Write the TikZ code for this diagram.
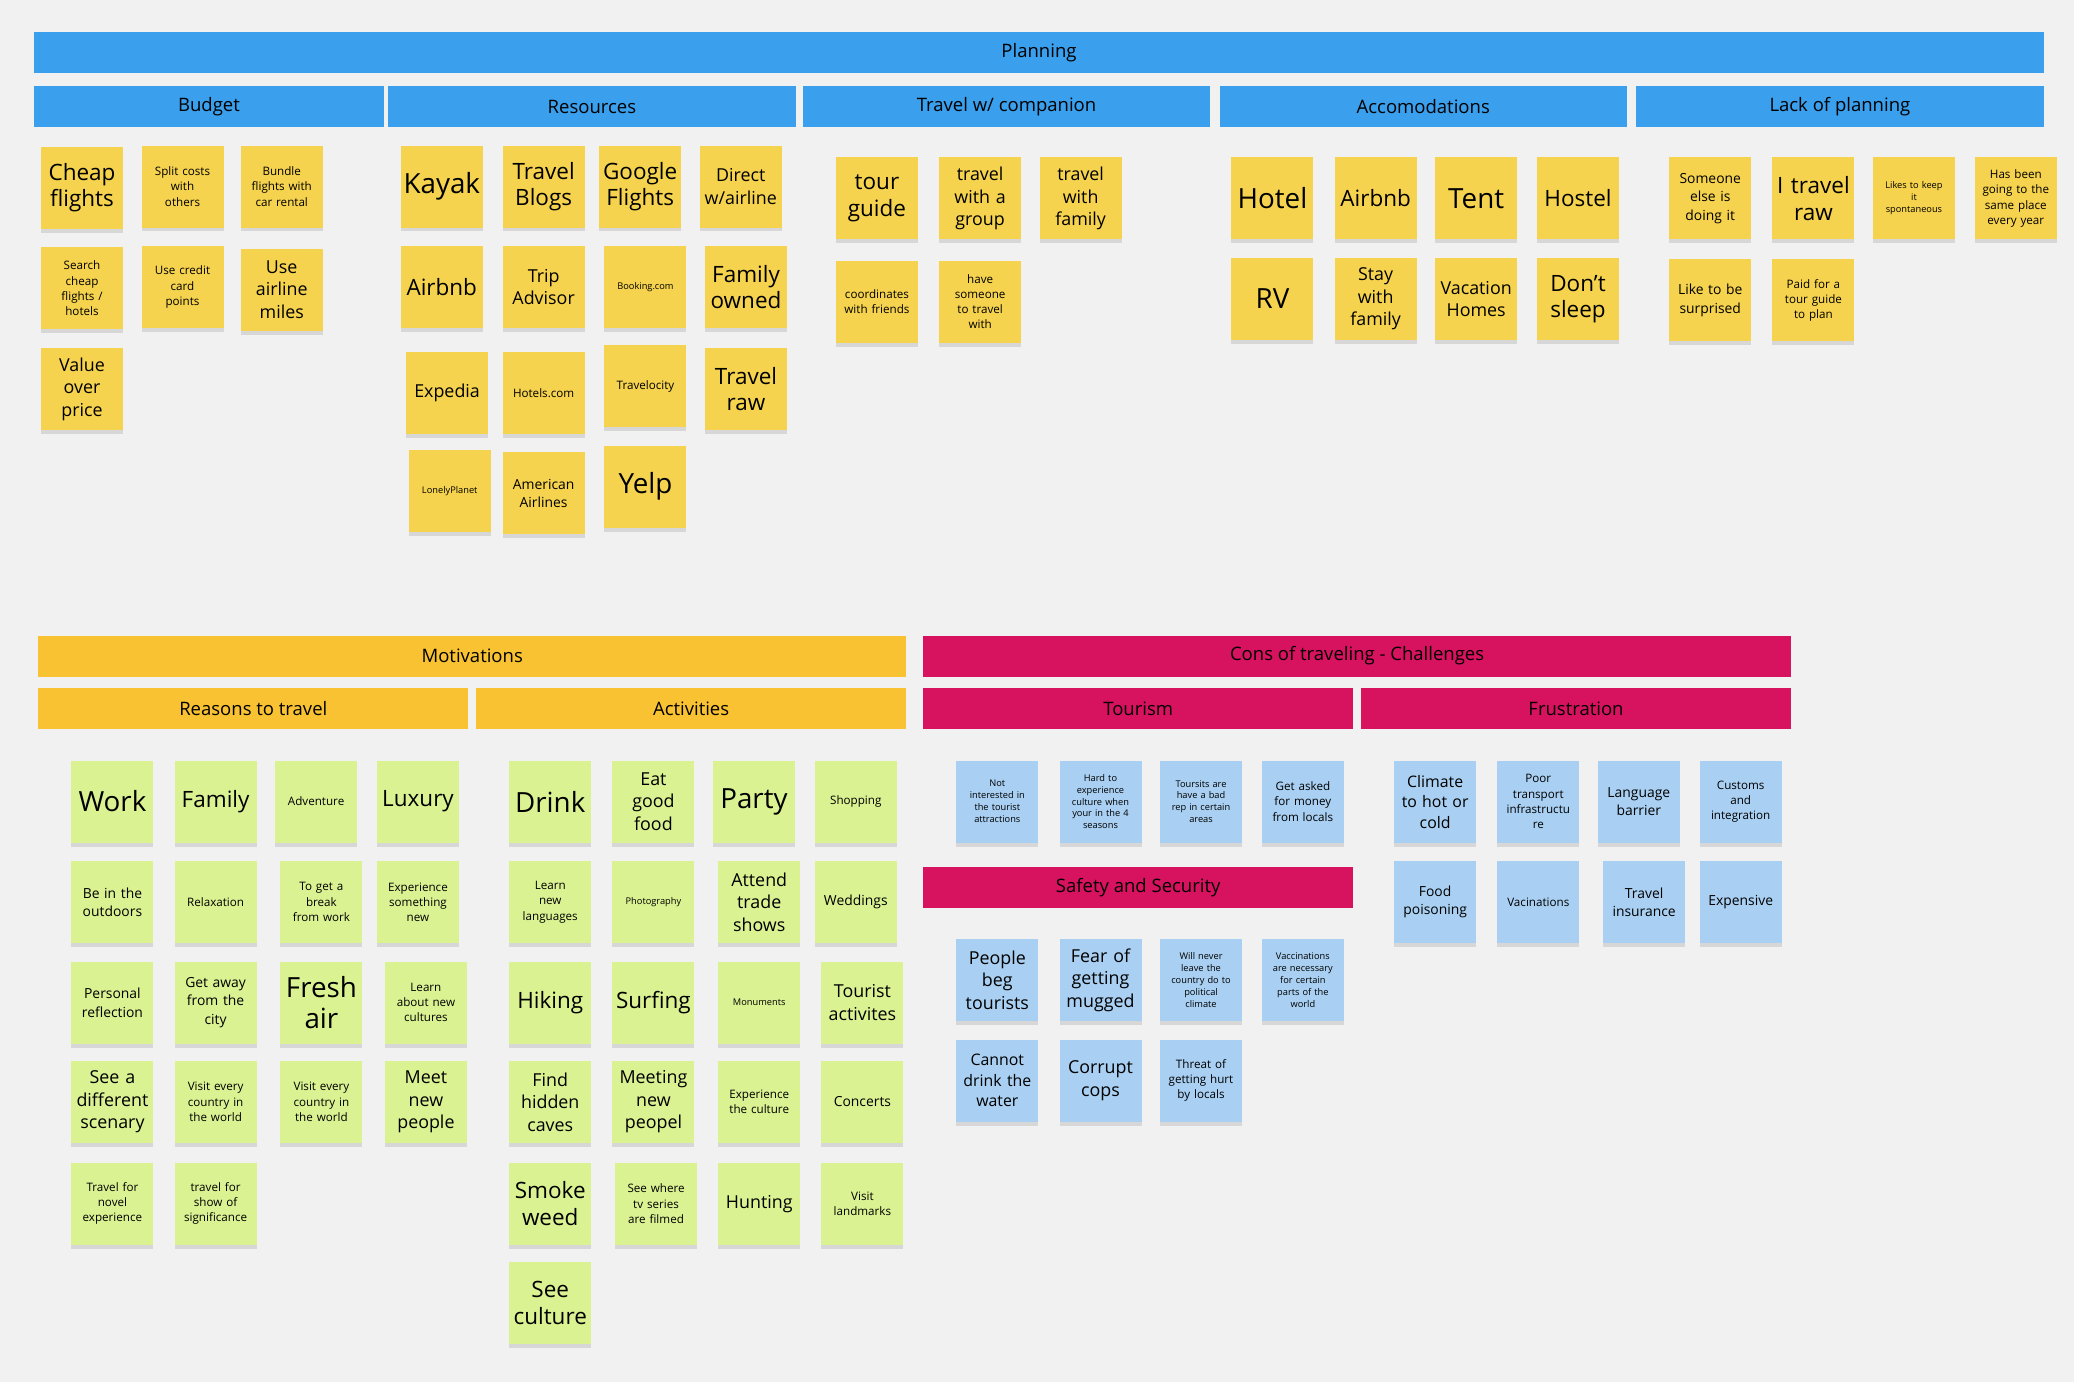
\documentclass[tikz,border=0pt]{standalone}
\usepackage{fontspec}
\setmainfont{Open Sans}
\usetikzlibrary{shadows}

\definecolor{bgc}{HTML}{F1F1F1}
\definecolor{plan}{HTML}{3A9FEC}
\definecolor{moti}{HTML}{F8C232}
\definecolor{cons}{HTML}{D7125F}
\definecolor{stiy}{HTML}{F6D34E}
\definecolor{stig}{HTML}{DAF292}
\definecolor{stib}{HTML}{A9D0F2}

\newcommand\fxl{\fontsize{21}{24}\selectfont}
\newcommand\fl{\fontsize{17}{20}\selectfont}
\newcommand\fm{\fontsize{13.5}{17}\selectfont}
\newcommand\fmm{\fontsize{12}{15.5}\selectfont}
\newcommand\fs{\fontsize{10.5}{14}\selectfont}
\newcommand\fxs{\fontsize{8.8}{11.5}\selectfont}
\newcommand\ft{\fontsize{7}{9}\selectfont}

\tikzset{
  note/.style={minimum width=62pt,minimum height=62pt,text width=58pt,inner sep=2pt,
    align=center,drop shadow={shadow xshift=0pt,shadow yshift=-3pt,fill=black!22,opacity=.6}},
  yel/.style={note,fill=stiy},
  grn/.style={note,fill=stig},
  blu/.style={note,fill=stib},
  head/.style={minimum height=31pt,inner sep=0pt,font=\fontsize{14}{16}\selectfont}
}

\begin{document}
\begin{tikzpicture}[x=1pt,y=-1pt]
\fill[bgc] (0,0) rectangle (1568,1045);
\useasboundingbox (0,0) rectangle (1568,1045);

% planning headers
\node[head,fill=plan,minimum width=1519pt] (plan) at (785.5,40) {Planning};
\node[head,fill=plan,minimum width=264pt] (ph1) at (158,80.5) {Budget};
\foreach \x/\t [count=\i from 2] in {447.5/Resources,761/{Travel w{/} companion},1076/Accomodations,1391/Lack of planning}
  \node[head,fill=plan,minimum width=308pt] (ph\i) at (\x,80.5) {\t};

% budget
\foreach \x/\y/\f/\t [count=\i] in {62/142/\fl/{Cheap\\flights},138/141/\fxs/{Split costs\\with\\others},213/141/\fxs/{Bundle\\flights with\\car rental},
  62/218/\fxs/{Search\\cheap\\flights /\\hotels},138/217/\fxs/{Use credit\\card\\points},213/219/\fm/{Use\\airline\\miles},
  62/294/\fm/{Value\\over\\price}}
  \node[yel,font=\f] (bud\i) at (\x,\y) {\t};

% resources
\foreach \x/\y/\f/\t [count=\i] in {334/141/\fxl/Kayak,411/141/\fl/{Travel\\Blogs},484/141/\fl/{Google\\Flights},560/141/\fm/{Direct\\w{/}airline},
  334/217/\fl/Airbnb,411/217/\fm/{Trip\\Advisor},488/217/\ft/Booking.com,564/217/\fl/{Family\\owned},
  338/297/\fm/Expedia,411/297/\fxs/Hotels.com,488/292/\fxs/Travelocity,564/294/\fl/{Travel\\raw},
  340/371/\ft/LonelyPlanet,411/373/\fs/{American\\Airlines},488/368/\fxl/Yelp}
  \node[yel,font=\f] (res\i) at (\x,\y) {\t};

% companion
\foreach \x/\y/\f/\t [count=\i] in {663/150/\fl/{tour\\guide},741/150/\fm/{travel\\with a\\group},817/150/\fm/{travel\\with\\family},
  663/228/\fxs/{coordinates\\with friends},741/228/\fxs/{have\\someone\\to travel\\with}}
  \node[yel,font=\f] (com\i) at (\x,\y) {\t};

% accomodations
\foreach \x/\y/\f/\t [count=\i] in {962/150/\fxl/Hotel,1040/150/\fl/Airbnb,1116/150/\fxl/Tent,1193/150/\fl/Hostel,
  962/226/\fxl/RV,1040/226/\fm/{Stay\\with\\family},1116/226/\fm/{Vacation\\Homes},1193/226/\fl/{Don't\\sleep}}
  \node[yel,font=\f] (acc\i) at (\x,\y) {\t};

% lack of planning
\foreach \x/\y/\f/\t [count=\i] in {1293/150/\fs/{Someone\\else is\\doing it},1371/150/\fl/{I travel\\raw},1447/150/\ft/{Likes to keep\\it\\spontaneous},1524/150/\fxs/{Has been\\going to the\\same place\\every year},
  1293/227/\fs/{Like to be\\surprised},1371/227/\fxs/{Paid for a\\tour guide\\to plan}}
  \node[yel,font=\f] (lac\i) at (\x,\y) {\t};

% motivations headers
\node[head,fill=moti,minimum width=656pt] (mot) at (357,496) {Motivations};
\node[head,fill=moti,minimum width=325pt] (rea) at (191.5,536) {Reasons to travel};
\node[head,fill=moti,minimum width=325pt] (act) at (522.5,536) {Activities};
\node[head,fill=cons,minimum width=656pt] (con) at (1026,496) {Cons of traveling - Challenges};
\node[head,fill=cons,minimum width=325pt] (tou) at (860.5,536) {Tourism};
\node[head,fill=cons,minimum width=325pt] (fru) at (1191.5,536) {Frustration};
\node[head,fill=cons,minimum width=325pt] (saf) at (860.5,671) {Safety and Security};

% reasons to travel
\foreach \x/\y/\f/\t [count=\i] in {85/606/\fxl/Work,163/606/\fl/Family,239/606/\fxs/Adventure,316/606/\fl/Luxury,
  85/682/\fs/{Be in the\\outdoors},163/682/\fxs/Relaxation,243/682/\fxs/{To get a\\break\\from work},316/682/\fxs/{Experience\\something\\new},
  85/758/\fs/{Personal\\reflection},163/758/\fs/{Get away\\from the\\city},243/758/\fxl/{Fresh\\air},322/758/\fxs/{Learn\\about new\\cultures},
  85/833/\fm/{See a\\different\\scenary},163/833/\fxs/{Visit every\\country in\\the world},243/833/\fxs/{Visit every\\country in\\the world},322/833/\fm/{Meet\\new\\people},
  85/910/\fxs/{Travel for\\novel\\experience},163/910/\fxs/{travel for\\show of\\significance}}
  \node[grn,font=\f] (rea\i) at (\x,\y) {\t};

% activities
\foreach \x/\y/\f/\t [count=\i] in {416/606/\fxl/Drink,494/606/\fm/{Eat\\good\\food},570/606/\fxl/Party,647/606/\fxs/Shopping,
  416/682/\fxs/{Learn\\new\\languages},494/682/\ft/Photography,574/682/\fm/{Attend\\trade\\shows},647/682/\fs/Weddings,
  416/758/\fl/Hiking,494/758/\fl/Surfing,574/758/\ft/Monuments,652/758/\fm/{Tourist\\activites},
  416/833/\fm/{Find\\hidden\\caves},494/833/\fm/{Meeting\\new\\peopel},574/833/\fxs/{Experience\\the culture},652/833/\fs/Concerts,
  416/910/\fl/{Smoke\\weed},496/910/\fxs/{See where\\tv series\\are filmed},574/910/\fm/Hunting,652/910/\fxs/{Visit\\landmarks},
  416/985/\fl/{See\\culture}}
  \node[grn,font=\f] (act\i) at (\x,\y) {\t};

% tourism
\foreach \x/\y/\f/\t [count=\i] in {754/606/\ft/{Not\\interested in\\the tourist\\attractions},832/606/\ft/{Hard to\\experience\\culture when\\your in the 4\\seasons},908/606/\ft/{Toursits are\\have a bad\\rep in certain\\areas},985/606/\fxs/{Get asked\\for money\\from locals}}
  \node[blu,font=\f] (tou\i) at (\x,\y) {\t};

% safety and security
\foreach \x/\y/\f/\t [count=\i] in {754/741/\fm/{People\\beg\\tourists},832/741/\fm/{Fear of\\getting\\mugged},908/741/\ft/{Will never\\leave the\\country do to\\political\\climate},985/741/\ft/{Vaccinations\\are necessary\\for certain\\parts of the\\world},
  754/817/\fmm/{Cannot\\drink the\\water},832/817/\fm/{Corrupt\\cops},908/817/\fxs/{Threat of\\getting hurt\\by locals}}
  \node[blu,font=\f] (saf\i) at (\x,\y) {\t};

% frustration
\foreach \x/\y/\f/\t [count=\i] in {1085/606/\fmm/{Climate\\to hot or\\cold},1163/606/\fxs/{Poor\\transport\\infrastructu\\re},1239/606/\fs/{Language\\barrier},1316/606/\fxs/{Customs\\and\\integration},
  1085/682/\fs/{Food\\poisoning},1163/682/\fxs/Vacinations,1243/682/\fs/{Travel\\insurance},1316/682/\fs/Expensive}
  \node[blu,font=\f] (fru\i) at (\x,\y) {\t};
\end{tikzpicture}
\end{document}
